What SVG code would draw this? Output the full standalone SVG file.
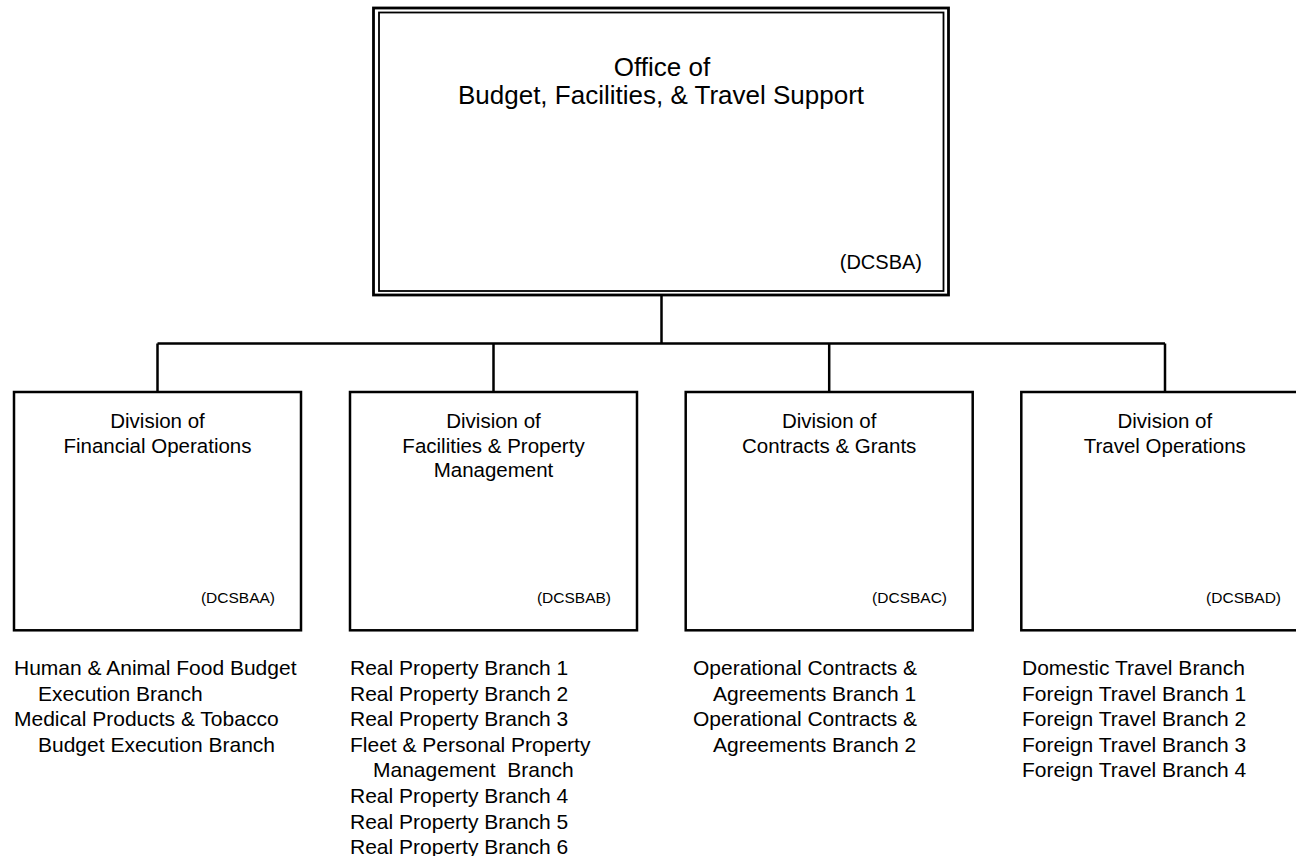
<svg xmlns="http://www.w3.org/2000/svg" width="1296" height="856" viewBox="0 0 1296 856">
<style>
text{font-family:"Liberation Sans",Arial,sans-serif;fill:#000}
.box{fill:#fff;stroke:#000;stroke-width:2.5}
.conn{fill:none;stroke:#000;stroke-width:2.5}
.title{font-size:26px;text-anchor:middle}
.code0{font-size:20px;text-anchor:end}
.div{font-size:20.5px;text-anchor:middle}
.code{font-size:15.5px;text-anchor:end}
.list{font-size:21px}
</style>
<rect width="1296" height="856" fill="#fff"/>
<g id="connectors">
<path class="conn" d="M661.5 295 V343.5 M157.5 343.5 H1165 M157.5 343.5 V392 M493.5 343.5 V392 M829.2 343.5 V392 M1165 343.5 V392"/>
</g>
<g id="office">
<rect x="373.5" y="8" width="575" height="287" fill="#fff" stroke="#000" stroke-width="2.8"/>
<rect x="379" y="12.5" width="564.5" height="278.5" fill="none" stroke="#000" stroke-width="1.8"/>
<text class="title" x="662" y="76">Office of</text>
<text class="title" x="661" y="104">Budget, Facilities, &amp; Travel Support</text>
<text class="code0" x="922" y="269">(DCSBA)</text>
</g>
<g id="div-financial">
<rect class="box" x="14" y="392" width="287" height="238.3"/>
<text class="div" x="157.5" y="428">Division of</text>
<text class="div" x="157.5" y="452.5">Financial Operations</text>
<text class="code" x="275" y="603">(DCSBAA)</text>
</g>
<g id="div-facilities">
<rect class="box" x="350" y="392" width="287" height="238.3"/>
<text class="div" x="493.5" y="428">Division of</text>
<text class="div" x="493.5" y="452.5">Facilities &amp; Property</text>
<text class="div" x="493.5" y="477">Management</text>
<text class="code" x="611" y="603">(DCSBAB)</text>
</g>
<g id="div-contracts">
<rect class="box" x="685.7" y="392" width="287" height="238.3"/>
<text class="div" x="829.2" y="428">Division of</text>
<text class="div" x="829.2" y="452.5">Contracts &amp; Grants</text>
<text class="code" x="947" y="603">(DCSBAC)</text>
</g>
<g id="div-travel">
<rect class="box" x="1021.3" y="392" width="287" height="238.3"/>
<text class="div" x="1164.8" y="428">Division of</text>
<text class="div" x="1164.8" y="452.5">Travel Operations</text>
<text class="code" x="1281" y="603">(DCSBAD)</text>
</g>
<g id="branches-financial">
<text class="list" x="14" y="675">Human &amp; Animal Food Budget</text>
<text class="list" x="38" y="700.6">Execution Branch</text>
<text class="list" x="14" y="726.2">Medical Products &amp; Tobacco</text>
<text class="list" x="38" y="751.8">Budget Execution Branch</text>
</g>
<g id="branches-facilities">
<text class="list" x="350" y="675">Real Property Branch 1</text>
<text class="list" x="350" y="700.6">Real Property Branch 2</text>
<text class="list" x="350" y="726.2">Real Property Branch 3</text>
<text class="list" x="350" y="751.8">Fleet &amp; Personal Property</text>
<text class="list" x="373" y="777.4">Management&#160; Branch</text>
<text class="list" x="350" y="803">Real Property Branch 4</text>
<text class="list" x="350" y="828.6">Real Property Branch 5</text>
<text class="list" x="350" y="854.2">Real Property Branch 6</text>
</g>
<g id="branches-contracts">
<text class="list" x="693" y="675">Operational Contracts &amp;</text>
<text class="list" x="713" y="700.6">Agreements Branch 1</text>
<text class="list" x="693" y="726.2">Operational Contracts &amp;</text>
<text class="list" x="713" y="751.8">Agreements Branch 2</text>
</g>
<g id="branches-travel">
<text class="list" x="1022" y="675">Domestic Travel Branch</text>
<text class="list" x="1022" y="700.6">Foreign Travel Branch 1</text>
<text class="list" x="1022" y="726.2">Foreign Travel Branch 2</text>
<text class="list" x="1022" y="751.8">Foreign Travel Branch 3</text>
<text class="list" x="1022" y="777.4">Foreign Travel Branch 4</text>
</g>
</svg>
